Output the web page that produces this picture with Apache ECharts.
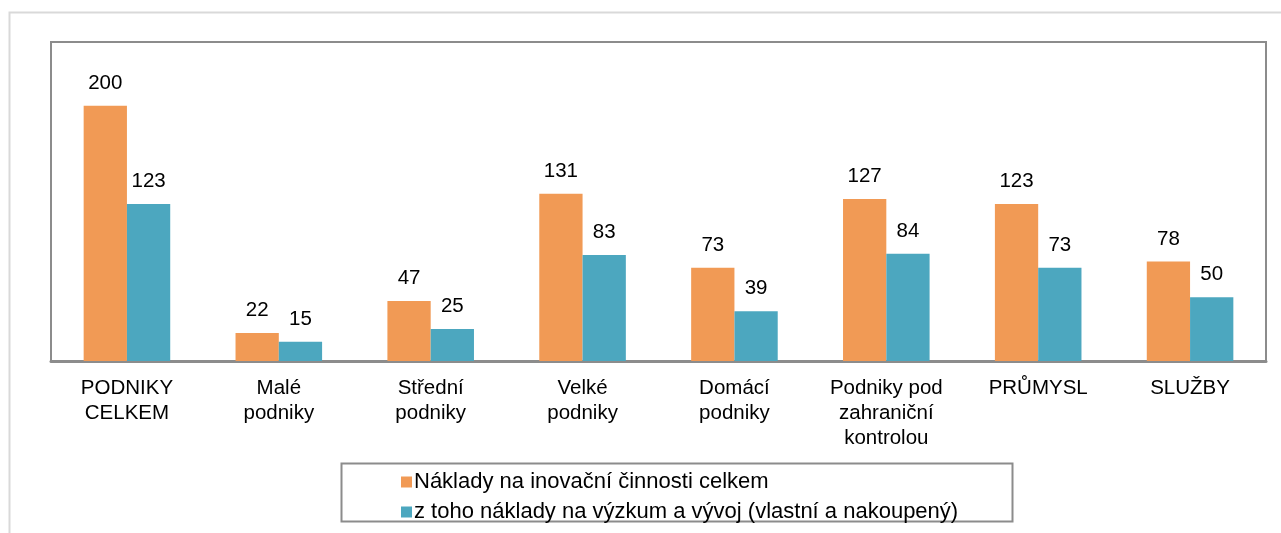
<!DOCTYPE html>
<html><head><meta charset="utf-8">
<script src="https://cdn.jsdelivr.net/npm/echarts@6/dist/echarts.min.js"></script>
<style>html,body{margin:0;padding:0;background:#fff}#c{width:1281px;height:533px}</style>
</head><body><div id="c"></div>
<script>
const categories = ['PODNIKY\nCELKEM','Malé\npodniky','Střední\npodniky','Velké\npodniky','Domácí\npodniky','Podniky pod\nzahraniční\nkontrolou','PRŮMYSL','SLUŽBY'];
const seriesNames = ['Náklady na inovační činnosti celkem','z toho náklady na výzkum a vývoj (vlastní a nakoupený)'];
const totalCosts = [200,22,47,131,73,127,123,78];
const rdCosts = [123,15,25,83,39,84,73,50];

const chart = echarts.init(document.getElementById('c'));
const font = 'Liberation Sans, Arial, sans-serif';
const lbl = {show:true, position:'top', distance:12, color:'#000', fontSize:20.5, fontFamily:font};
chart.setOption({
  animation:false,
  textStyle:{fontFamily:font},
  graphic:[
    {type:'rect', shape:{x:9.5,y:12.5,width:1300,height:540}, style:{fill:'none', stroke:'#d9d9d9', lineWidth:2}, z:-10},
    {type:'rect', shape:{x:341.5,y:463.5,width:671,height:58}, style:{fill:'#fff', stroke:'#8c8c8c', lineWidth:2}, z:-5}
  ],
  grid:{left:51, right:15, top:42, bottom:172, show:true, borderColor:'#8c8c8c', borderWidth:2, backgroundColor:'transparent'},
  legend:{orient:'vertical', left:396, top:466, itemWidth:11, itemHeight:11, itemGap:8, icon:'rect',
    textStyle:{fontSize:22, lineHeight:22, color:'#000', fontFamily:font, padding:[0,0,0,-3]}, data:seriesNames},
  xAxis:{type:'category', data:categories,
    axisLine:{lineStyle:{color:'#8c8c8c', width:3}}, axisTick:{show:false},
    axisLabel:{color:'#000', fontSize:20.5, lineHeight:25, margin:15, interval:0, fontFamily:font}},
  yAxis:{type:'value', min:0, max:250, show:false, splitLine:{show:false}},
  series:[
    {name:seriesNames[0], type:'bar', data:totalCosts, barGap:'0%', barCategoryGap:'43%', itemStyle:{color:'#F19A55'}, label:lbl},
    {name:seriesNames[1], type:'bar', data:rdCosts, itemStyle:{color:'#4CA7BF'}, label:lbl}
  ]
});
</script></body></html>
